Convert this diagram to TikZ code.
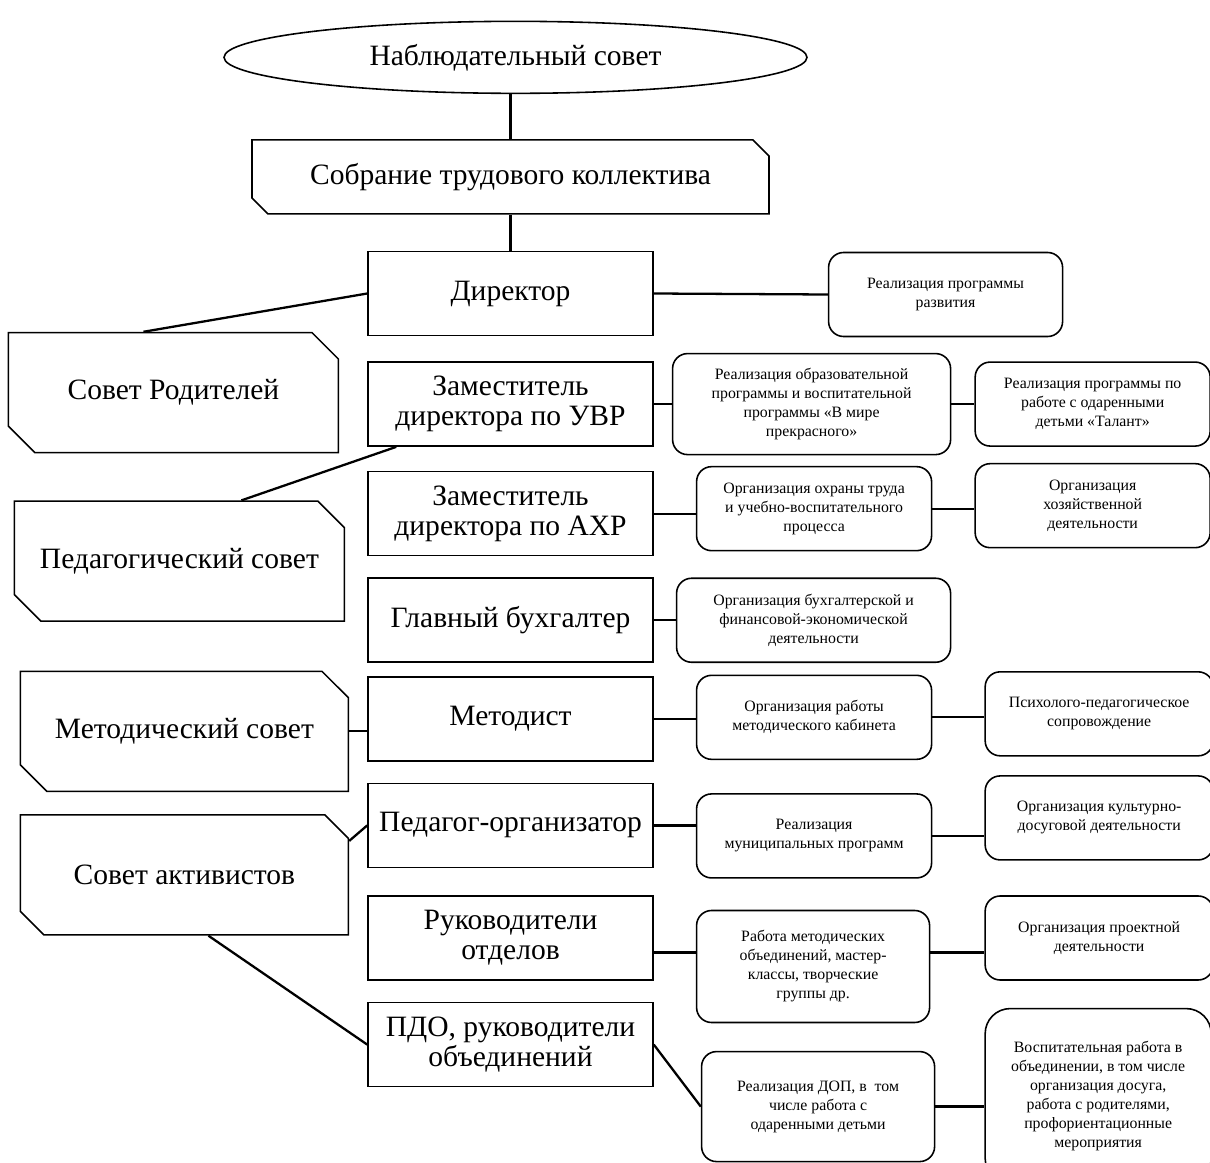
\documentclass[tikz,border=0pt]{standalone}
\usepackage{fontspec}
\setmainfont{Liberation Serif}
\usetikzlibrary{shapes.geometric,shapes.misc,positioning}

\begin{document}
\begin{tikzpicture}[
    bigtext/.style={font=\fontsize{16.8}{17.2}\selectfont},
    smalltext/.style={font=\fontsize{9}{10.8}\selectfont},
    mainbox/.style={draw, rectangle, line width=0.9pt, inner sep=0pt, minimum width=5.7cm, minimum height=1.68cm, align=center, bigtext},
    council/.style={draw, chamfered rectangle, chamfered rectangle corners={north east,south west}, chamfered rectangle xsep=0.27cm, chamfered rectangle ysep=0.27cm, line width=0.9pt, inner sep=0pt, minimum width=6.6cm, minimum height=2.4cm, align=center, bigtext},
    task/.style={draw, rectangle, rounded corners=0.3cm, line width=0.9pt, inner sep=0pt, minimum width=4.7cm, minimum height=1.68cm, align=center, smalltext},
    link/.style={black, line width=1.3pt}
  ]
       \useasboundingbox (0,0) rectangle (24.2,-23.24);
       \clip (0,0) rectangle (24.2,-23.24);

       %Defining nodes
       \node[mainbox] (Director) at (10.21,-5.87) {Директор};
       \node[council, chamfered rectangle xsep=0.16cm, chamfered rectangle ysep=0.16cm, minimum width=10.34cm, minimum height=1.48cm, above=0.72cm of Director] (Sobranie) {Собрание трудового коллектива};
       \node[draw, ellipse, line width=0.9pt, inner sep=0pt, minimum width=11.66cm, minimum height=1.44cm, bigtext, above=0.9cm of Sobranie, xshift=0.1cm] (Nabl) {Наблюдательный совет};

       \node[mainbox, below=0.5cm of Director] (ZamUVR) {Заместитель\\директора по УВР};
       \node[mainbox, below=0.48cm of ZamUVR] (ZamAHR) {Заместитель\\директора по АХР};
       \node[mainbox, below=0.42cm of ZamAHR] (Buhgalter) {Главный бухгалтер};
       \node[mainbox, below=0.26cm of Buhgalter] (Metodist) {Методист};
       \node[mainbox, below=0.42cm of Metodist] (PedOrg) {Педагог-организатор};
       \node[mainbox, below=0.54cm of PedOrg] (RukOtd) {Руководители\\отделов};
       \node[mainbox, below=0.42cm of RukOtd] (PDO) {ПДО, руководители\\объединений};

       \node[council, left=0.56cm of ZamUVR, yshift=0.23cm] (SovetRod) {Совет Родителей};
       \node[council, below=0.94cm of SovetRod, xshift=0.12cm] (PedSovet) {Педагогический совет};
       \node[council, minimum width=6.56cm, left=0.36cm of Metodist, yshift=-0.25cm] (MetSovet) {Методический совет};
       \node[council, minimum width=6.56cm, below=0.44cm of MetSovet] (SovetAkt) {Совет активистов};

       \node[task, minimum width=4.68cm, right=3.48cm of Director, yshift=-0.02cm] (Razvitie) {Реализация программы\\развития};
       \node[task, minimum width=5.56cm, minimum height=2.02cm, right=0.36cm of ZamUVR] (ObrProg) {Реализация образовательной\\программы и воспитательной\\программы «В мире\\прекрасного»};
       \node[task, right=0.46cm of ObrProg] (Talant) {Реализация программы по\\работе с одаренными\\детьми «Талант»};
       \node[task, right=0.84cm of ZamAHR, yshift=0.1cm] (OhranaTruda) {Организация охраны труда\\и учебно-воспитательного\\процесса};
       \node[task, right=0.84cm of OhranaTruda, yshift=0.06cm] (Hoz) {Организация\\хозяйственной\\деятельности};
       \node[task, minimum width=5.48cm, right=0.44cm of Buhgalter] (BuhDeyat) {Организация бухгалтерской и\\финансовой-экономической\\деятельности};
       \node[task, right=0.84cm of Metodist, yshift=0.03cm] (MetKab) {Организация работы\\методического кабинета};
       \node[task, minimum width=4.56cm, right=1.04cm of MetKab, yshift=0.07cm] (Psiholog) {Психолого-педагогическое\\сопровождение};
       \node[task, right=0.84cm of PedOrg, yshift=-0.21cm] (MunProg) {Реализация\\муниципальных программ};
       \node[task, minimum width=4.56cm, right=1.04cm of MunProg, yshift=0.36cm] (Kultur) {Организация культурно-\\досуговой деятельности};
       \node[task, minimum width=4.66cm, minimum height=2.24cm, right=0.84cm of RukOtd, yshift=-0.57cm] (MetObed) {Работа методических\\объединений, мастер-\\классы, творческие\\группы др.};
       \node[task, minimum width=4.56cm, right=1.08cm of MetObed, yshift=0.57cm] (Proekt) {Организация проектной\\деятельности};
       \node[task, minimum width=4.66cm, minimum height=2.2cm, right=0.94cm of PDO, yshift=-1.24cm] (DOP) {Реализация ДОП, в \ том\\числе работа с\\одаренными детьми};
       \node[task, rounded corners=0.5cm, minimum width=4.52cm, minimum height=3.5cm, right=0.98cm of DOP, yshift=0.21cm] (Vospit) {Воспитательная работа в\\объединении, в том числе\\организация досуга,\\работа с родителями,\\профориентационные\\мероприятия};

       %Drawing Diagram
       \draw[link] (Sobranie.north) -- (Sobranie.north |- Nabl.south);
       \draw[link] (Sobranie.south) -- (Director.north);
       \draw[link] (Director.east) -- (Razvitie.west);
       \draw[link] (Director.west) -- ([xshift=-0.6cm]SovetRod.north);
       \draw[link] ([xshift=0.58cm]ZamUVR.south west) -- ([xshift=1.24cm]PedSovet.north);
       \draw[link] (ZamUVR.east) -- (ObrProg.west);
       \draw[link] (ObrProg.east) -- (Talant.west);
       \draw[link] (ZamAHR.east) -- (ZamAHR.east -| OhranaTruda.west);
       \draw[link] (OhranaTruda.east) -- (OhranaTruda.east -| Hoz.west);
       \draw[link] (Buhgalter.east) -- (BuhDeyat.west);
       \draw[link] (MetSovet.east) -- (MetSovet.east -| Metodist.west);
       \draw[link] (Metodist.east) -- (Metodist.east -| MetKab.west);
       \draw[link] (MetKab.east) -- (MetKab.east -| Psiholog.west);
       \draw[link] ([yshift=0.68cm]SovetAkt.east) -- (PedOrg.west);
       \draw[link] (PedOrg.east) -- (PedOrg.east -| MunProg.west);
       \draw[link] (MunProg.east) -- (MunProg.east -| Kultur.west);
       \draw[link] ([yshift=-0.29cm]RukOtd.east) coordinate (ro) -- (ro -| MetObed.west);
       \draw[link] (ro -| MetObed.east) -- (ro -| Proekt.west);
       \draw[link] ([xshift=0.48cm]SovetAkt.south) -- (PDO.west);
       \draw[link] (PDO.east) -- (DOP.west);
       \draw[link] (DOP.east) -- (DOP.east -| Vospit.west);
\end{tikzpicture}
\end{document}
